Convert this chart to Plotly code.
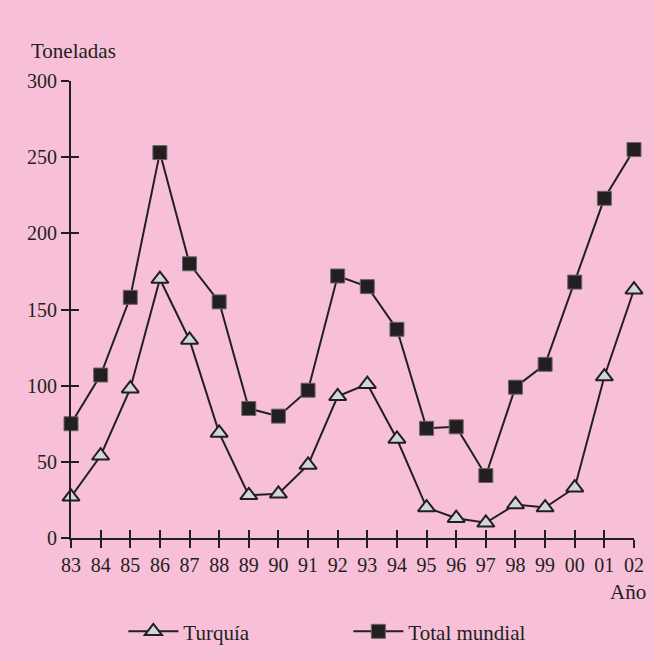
import plotly.graph_objects as go

years = ["83", "84", "85", "86", "87", "88", "89", "90", "91", "92",
         "93", "94", "95", "96", "97", "98", "99", "00", "01", "02"]
turquia = [27, 54, 98, 170, 130, 69, 28, 29, 48, 93,
           101, 65, 20, 13, 10, 22, 20, 33, 106, 163]
total_mundial = [75, 107, 158, 253, 180, 155, 85, 80, 97, 172,
                 165, 137, 72, 73, 41, 99, 114, 168, 223, 255]
y_ticks = [0, 50, 100, 150, 200, 250, 300]

BG = "#f7c0d8"
INK = "#231f20"
FONT = "Liberation Serif, Times New Roman, serif"
FS = 21

fig = go.Figure()
# invisible helper traces so the overlay axes (inner half of crossing ticks) are drawn
fig.add_trace(go.Scatter(x=years, y=total_mundial, xaxis="x", yaxis="y2",
                         mode="lines", line=dict(color="rgba(0,0,0,0)"),
                         showlegend=False, hoverinfo="skip"))
fig.add_trace(go.Scatter(x=years, y=total_mundial, xaxis="x2", yaxis="y",
                         mode="lines", line=dict(color="rgba(0,0,0,0)"),
                         showlegend=False, hoverinfo="skip"))
fig.add_trace(go.Scatter(
    x=years, y=turquia, name="Turquía", mode="lines+markers",
    line=dict(color=INK, width=2),
    marker=dict(symbol="triangle-up", size=15, color="#d3d6d6",
                line=dict(color=INK, width=2)),
    cliponaxis=False,
))
fig.add_trace(go.Scatter(
    x=years, y=total_mundial, name="Total mundial", mode="lines+markers",
    line=dict(color=INK, width=2),
    marker=dict(symbol="square", size=14, color=INK,
                line=dict(color="#6a6566", width=1)),
    cliponaxis=False,
))

fig.update_layout(
    width=654, height=661,
    paper_bgcolor=BG, plot_bgcolor=BG,
    margin=dict(l=71, r=20, t=81, b=123, autoexpand=False),
    font=dict(family=FONT, size=FS, color=INK),
    xaxis=dict(type="category", range=[0, 19], showgrid=False, zeroline=False,
               showline=True, linecolor=INK, linewidth=2,
               ticks="outside", ticklen=8, tickwidth=2, tickcolor=INK,
               tickfont=dict(family=FONT, size=FS - 1, color=INK)),
    yaxis=dict(range=[0, 300], tickvals=y_ticks, showgrid=False, zeroline=False,
               showline=True, linecolor=INK, linewidth=2,
               ticks="outside", ticklen=8, tickwidth=2, tickcolor=INK,
               tickfont=dict(family=FONT, size=FS - 1, color=INK)),
    xaxis2=dict(type="category", range=[0, 19], overlaying="x", anchor="y",
                side="bottom", showgrid=False, zeroline=False, showline=False,
                ticks="inside", ticklen=8, tickwidth=2, tickcolor=INK,
                showticklabels=False),
    yaxis2=dict(range=[0, 300], tickvals=y_ticks, overlaying="y", anchor="x",
                side="left", showgrid=False, zeroline=False, showline=False,
                ticks="inside", ticklen=8, tickwidth=2, tickcolor=INK,
                showticklabels=False),
    showlegend=True,
    legend=dict(orientation="h", x=0.093, xanchor="left", y=-0.205, yanchor="middle",
                bgcolor="rgba(0,0,0,0)", font=dict(family=FONT, size=FS, color=INK),
                entrywidth=160, entrywidthmode="pixels", itemwidth=50),
    annotations=[
        dict(text="Toneladas", xref="paper", yref="paper", x=-0.074, y=1.065,
             xanchor="left", yanchor="middle", showarrow=False,
             font=dict(family=FONT, size=FS, color=INK)),
        dict(text="Año", xref="paper", yref="paper", x=1.024, y=-0.118,
             xanchor="right", yanchor="middle", showarrow=False,
             font=dict(family=FONT, size=FS, color=INK)),
    ],
)

fig.write_html("out.html", config={"displayModeBar": False},
               post_script="document.body.style.margin='0';"
                           "document.body.style.background='" + BG + "';")
